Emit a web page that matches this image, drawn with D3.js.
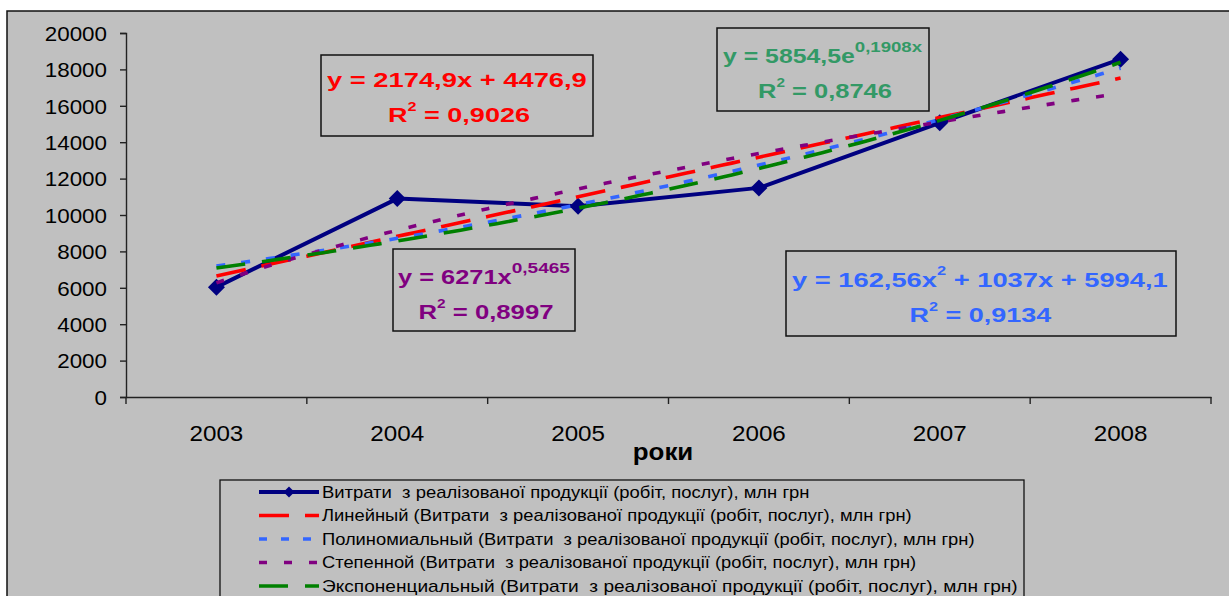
<!DOCTYPE html>
<html>
<head>
<meta charset="utf-8">
<script src="https://cdn.jsdelivr.net/npm/d3@7"></script>
<style>
  html, body { margin: 0; padding: 0; background: #ffffff; }
  svg { display: block; }
  text { font-family: "Liberation Sans", Arial, sans-serif; white-space: pre; }
</style>
</head>
<body>
<svg id="chart" width="1229" height="596"></svg>
<script>
// Years on the category axis
const years = ["2003", "2004", "2005", "2006", "2007", "2008"];
// Costs of sold products (works, services), mln UAH
const costs = [6036, 10900, 10485, 11490, 15065, 18560];
// Value axis tick labels
const yTickValues = [0, 2000, 4000, 6000, 8000, 10000, 12000, 14000, 16000, 18000, 20000];

// Trendline coefficients (x = 1 … 6 is the year index)
const linearCoef = [2174.9, 4476.9];          // y = a·x + b
const polyCoef = [162.56, 1037, 5994.1];      // y = a·x² + b·x + c
const powerCoef = [6271, 0.5465];             // y = a·x^b
const expCoef = [5854.5, 0.1908];             // y = a·e^(b·x)

const seriesName = "Витрати  з реалізованої продукції (робіт, послуг), млн грн";
const legendLabels = [
  seriesName,
  "Линейный (" + seriesName + ")",
  "Полиномиальный (" + seriesName + ")",
  "Степенной (" + seriesName + ")",
  "Экспоненциальный (" + seriesName + ")"
];

const svg = d3.select("#chart");

// chart area
svg.append("rect")
  .attr("x", 7).attr("y", 11)
  .attr("width", 1240).attr("height", 620)
  .attr("fill", "#c0c0c0")
  .attr("stroke", "#111").attr("stroke-width", 1.5);

const plot = { left: 126, right: 1211, top: 33, bottom: 397 };

const x = d3.scaleBand().domain(years).range([plot.left, plot.right]).paddingInner(0).paddingOuter(0);
const y = d3.scaleLinear().domain([0, 20000]).range([plot.bottom, plot.top]);
const xIdx = d3.scaleLinear().domain([1, 6])
  .range([x(years[0]) + x.bandwidth() / 2, x(years[5]) + x.bandwidth() / 2]);

// value axis
const yAxis = svg.append("g")
  .attr("transform", `translate(${plot.left},0)`)
  .call(d3.axisLeft(y).tickValues(yTickValues).tickSize(6).tickFormat(d3.format("d")));
yAxis.selectAll("path, line").attr("stroke", "#222").attr("stroke-width", 1.4);
yAxis.selectAll("text")
  .attr("x", null).attr("dy", "0.36em")
  .attr("transform", "translate(-19,0) scale(1.12,1)")
  .attr("font-size", 20).attr("fill", "#000")
  .style("font-family", "'Liberation Sans', Arial, sans-serif");

// category axis
const xAxis = svg.append("g")
  .attr("transform", `translate(0,${plot.bottom})`)
  .call(d3.axisBottom(x).tickSize(0).tickSizeOuter(0));
xAxis.select("path.domain").attr("stroke", "#222").attr("stroke-width", 1.4);
xAxis.selectAll("text")
  .attr("y", null).attr("dy", null)
  .attr("transform", "translate(0,44) scale(1.1,1)")
  .attr("font-size", 22).attr("fill", "#000")
  .style("font-family", "'Liberation Sans', Arial, sans-serif");
// tick marks on category boundaries
const boundaries = years.map(d => x(d)).concat([x(years[5]) + x.step()]);
xAxis.selectAll("line.bound").data(boundaries).enter().append("line")
  .attr("class", "bound")
  .attr("x1", d => d).attr("x2", d => d)
  .attr("y1", 0).attr("y2", 7)
  .attr("stroke", "#222").attr("stroke-width", 1.4);

svg.append("text")
  .attr("transform", "translate(663,460) scale(1.08,1)")
  .attr("text-anchor", "middle")
  .attr("font-size", 24).attr("font-weight", "bold")
  .text("роки");

// main series
const line = d3.line().x((d, i) => x(years[i]) + x.bandwidth() / 2).y(d => y(d));
svg.append("path").datum(costs)
  .attr("d", line)
  .attr("fill", "none").attr("stroke", "#000080").attr("stroke-width", 4)
  .attr("stroke-linejoin", "round");

const diamond = r => `M0,${-r}L${r},0L0,${r}L${-r},0Z`;
svg.selectAll("path.marker").data(costs).enter().append("path")
  .attr("class", "marker")
  .attr("transform", (d, i) => `translate(${x(years[i]) + x.bandwidth() / 2},${y(d)})`)
  .attr("d", diamond(8.5))
  .attr("fill", "#000080");

// trendlines
const trendDefs = [
  { f: t => linearCoef[0] * t + linearCoef[1], color: "#ff0000", dash: "30,16" },
  { f: t => polyCoef[0] * t * t + polyCoef[1] * t + polyCoef[2], color: "#3366ff", dash: "9,16" },
  { f: t => powerCoef[0] * Math.pow(t, powerCoef[1]), color: "#800080", dash: "8,17" },
  { f: t => expCoef[0] * Math.exp(expCoef[1] * t), color: "#008000", dash: "29,17" }
];
const tSamples = d3.range(1, 6.0001, 0.05);
const trendLine = d3.line().x(d => xIdx(d.t)).y(d => y(d.v)).curve(d3.curveLinear);
trendDefs.forEach(td => {
  svg.append("path")
    .datum(tSamples.map(t => ({ t, v: td.f(t) })))
    .attr("d", trendLine)
    .attr("fill", "none").attr("stroke", td.color)
    .attr("stroke-width", 3.6).attr("stroke-dasharray", td.dash);
});

// equation boxes
function fitLine(cx, baseline, parts, targetW, color) {
  const t = svg.append("text")
    .attr("fill", color).attr("font-weight", "bold").attr("font-size", 20)
    .attr("text-anchor", "start");
  let prevSup = 0;
  parts.forEach(p => {
    const ts = t.append("tspan").text(p.t);
    const shift = p.sup ? -p.raise : 0;
    if (shift - prevSup !== 0) ts.attr("dy", shift - prevSup);
    if (p.sup) ts.attr("font-size", p.sup);
    prevSup = shift;
  });
  const w = t.node().getBBox().width;
  const s = targetW / w;
  t.attr("transform", `translate(${cx - targetW / 2},${baseline}) scale(${s},1)`);
}

const boxes = [
  { x0: 321, y0: 55, x1: 593, y1: 136, color: "#ff0000",
    lines: [
      { cx: 457, b: 87, w: 260, parts: [{ t: "y = 2174,9x + 4476,9" }] },
      { cx: 459, b: 122, w: 142, parts: [{ t: "R" }, { t: "2", sup: 12, raise: 11 }, { t: " = 0,9026" }] }
    ] },
  { x0: 717, y0: 28, x1: 929, y1: 111, color: "#339966",
    lines: [
      { cx: 823, b: 63, w: 200, parts: [{ t: "y = 5854,5e" }, { t: "0,1908x", sup: 15, raise: 11 }] },
      { cx: 825, b: 98, w: 134, parts: [{ t: "R" }, { t: "2", sup: 12, raise: 11 }, { t: " = 0,8746" }] }
    ] },
  { x0: 393, y0: 249, x1: 575, y1: 331, color: "#800080",
    lines: [
      { cx: 484, b: 284, w: 172, parts: [{ t: "y = 6271x" }, { t: "0,5465", sup: 15, raise: 11 }] },
      { cx: 486, b: 319, w: 135, parts: [{ t: "R" }, { t: "2", sup: 12, raise: 11 }, { t: " = 0,8997" }] }
    ] },
  { x0: 786, y0: 251, x1: 1176, y1: 336, color: "#3366ff",
    lines: [
      { cx: 980, b: 287, w: 376, parts: [{ t: "y = 162,56x" }, { t: "2", sup: 12, raise: 12 }, { t: " + 1037x + 5994,1" }] },
      { cx: 981, b: 322, w: 143, parts: [{ t: "R" }, { t: "2", sup: 12, raise: 11 }, { t: " = 0,9134" }] }
    ] }
];
boxes.forEach(bx => {
  svg.append("rect")
    .attr("x", bx.x0).attr("y", bx.y0)
    .attr("width", bx.x1 - bx.x0).attr("height", bx.y1 - bx.y0)
    .attr("fill", "none").attr("stroke", "#111").attr("stroke-width", 1.5);
  bx.lines.forEach(l => fitLine(l.cx, l.b, l.parts, l.w, bx.color));
});

// legend
svg.append("rect")
  .attr("x", 220).attr("y", 480).attr("width", 804).attr("height", 140)
  .attr("fill", "none").attr("stroke", "#111").attr("stroke-width", 1.3);

const legendStyles = [
  { color: "#000080", dash: null, marker: true },
  { color: "#ff0000", dash: "30,16" },
  { color: "#3366ff", dash: "8,14" },
  { color: "#800080", dash: "8,17" },
  { color: "#008000", dash: "29,17" }
];
const legendWidths = [488, 590, 653, 595, 696];
const legend = svg.append("g");
legendLabels.forEach((lab, i) => {
  const cy = 492 + i * 23.5;
  const st = legendStyles[i];
  legend.append("line")
    .attr("x1", 259).attr("x2", 319).attr("y1", cy).attr("y2", cy)
    .attr("stroke", st.color).attr("stroke-width", st.marker ? 4 : 3.6)
    .attr("stroke-dasharray", st.dash);
  if (st.marker) {
    legend.append("path")
      .attr("transform", `translate(289,${cy})`)
      .attr("d", diamond(5.5)).attr("fill", st.color);
  }
  const t = legend.append("text")
    .attr("font-size", 16).attr("dy", "0.36em").attr("fill", "#000")
    .text(lab);
  const w = t.node().getBBox().width;
  t.attr("transform", `translate(322,${cy}) scale(${legendWidths[i] / w},1)`);
});
</script>
</body>
</html>
